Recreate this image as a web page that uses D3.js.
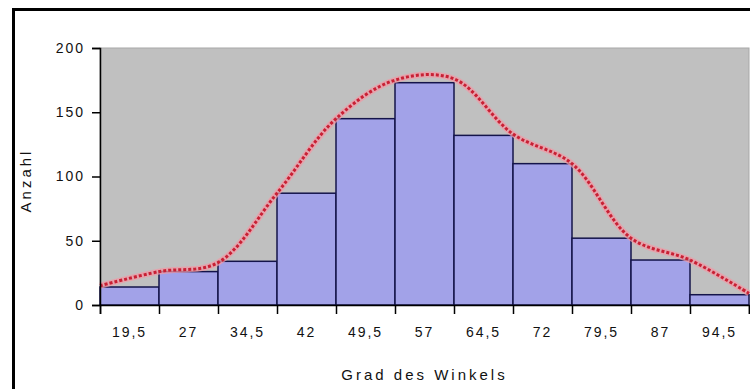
<!DOCTYPE html>
<html>
<head>
<meta charset="utf-8">
<script src="https://cdn.jsdelivr.net/npm/d3@7"></script>
<style>
  body { margin: 0; background: #fff; }
  text { font-family: Arial, "Liberation Sans", sans-serif; fill: #111; }
</style>
</head>
<body>
<div id="chart"></div>
<script>
var categories = ['19,5','27','34,5','42','49,5','57','64,5','72','79,5','87','94,5']
var counts = [14, 26, 34, 87, 145, 173, 132, 110, 52, 35, 8]
// smoothed curve, one value per class boundary
var curveValues = [15, 26, 33, 87, 145, 175, 176, 133, 110, 52, 35, 9]
var yTicks = [0, 50, 100, 150, 200]

var width = 750, height = 389
var plotLeft = 100, plotRight = 749, plotTop = 48, plotBottom = 305

var svg = d3.select('#chart')
    .append('svg')
    .attr('width', width)
    .attr('height', height)

// outer frame
svg.append('rect')
    .attr('x', 13.5).attr('y', 9.5)
    .attr('width', 760).attr('height', 400)
    .attr('fill', '#fff')
    .attr('stroke', '#000')
    .attr('stroke-width', 3)

var y = d3.scaleLinear().domain([0, 200]).range([plotBottom, plotTop])
var xb = d3.scaleLinear().domain([0, categories.length]).range([plotLeft, plotRight])
var xc = d3.scaleBand().domain(categories).range([plotLeft, plotRight]).padding(0)

// plot area
svg.append('rect')
    .attr('x', plotLeft).attr('y', plotTop)
    .attr('width', plotRight - plotLeft).attr('height', plotBottom - plotTop)
    .attr('fill', '#c0c0c0')
    .attr('stroke', '#a8a8a8')
    .attr('stroke-width', 1)

svg.append('g')
  .selectAll('rect')
  .data(counts)
  .enter()
  .append('rect')
    .attr('x', (d, i) => xb(i))
    .attr('y', d => y(d))
    .attr('width', (d, i) => xb(i + 1) - xb(i))
    .attr('height', d => plotBottom - y(d))
    .attr('fill', '#a2a2e8')
    .attr('stroke', '#14144a')
    .attr('stroke-width', 1.5)

var line = d3.line()
    .x((d, i) => xb(i))
    .y(d => y(d))
    .curve(d3.curveCatmullRom.alpha(0.5))

svg.append('path')
    .datum(curveValues)
    .attr('d', line)
    .attr('fill', 'none')
    .attr('stroke', '#f09aa6')
    .attr('stroke-width', 6)
    .attr('opacity', 0.75)

svg.append('path')
    .datum(curveValues)
    .attr('d', line)
    .attr('fill', 'none')
    .attr('stroke', '#c82034')
    .attr('stroke-width', 3)
    .attr('stroke-dasharray', '3,2')

// y axis
var yAxis = svg.append('g')
    .attr('transform', `translate(${plotLeft},0)`)
    .call(d3.axisLeft(y).tickValues(yTicks).tickSize(8).tickPadding(7))
yAxis.select('.domain').attr('stroke', '#000').attr('stroke-width', 1.5)
yAxis.selectAll('.tick line').attr('stroke', '#000').attr('stroke-width', 1.5)
yAxis.selectAll('.tick text')
    .style('font-size', '14px')
    .style('letter-spacing', '2px')
    .style('fill', '#111')

// x axis: ticks on boundaries, labels centered in the classes
var xAxis = svg.append('g')
    .attr('transform', `translate(0,${plotBottom})`)
    .call(d3.axisBottom(xb).tickValues(d3.range(0, categories.length + 1)).tickSize(9).tickFormat(''))
xAxis.select('.domain').attr('stroke', '#000').attr('stroke-width', 1.5)
xAxis.selectAll('.tick line').attr('stroke', '#000').attr('stroke-width', 1.5)

var xLabels = svg.append('g')
    .attr('transform', `translate(0,${plotBottom})`)
    .call(d3.axisBottom(xc).tickSize(0).tickPadding(22))
xLabels.select('.domain').remove()
xLabels.selectAll('.tick text')
    .style('font-size', '14px')
    .style('letter-spacing', '2px')
    .style('fill', '#111')

svg.append('text')
    .attr('x', (plotLeft + plotRight) / 2)
    .attr('y', 380)
    .attr('text-anchor', 'middle')
    .style('font-size', '15px')
    .style('letter-spacing', '3px')
    .text('Grad des Winkels')

svg.append('text')
    .attr('transform', `translate(31,${(plotTop + plotBottom) / 2 + 4}) rotate(-90)`)
    .attr('text-anchor', 'middle')
    .style('font-size', '15px')
    .style('letter-spacing', '3px')
    .text('Anzahl')
</script>
</body>
</html>
